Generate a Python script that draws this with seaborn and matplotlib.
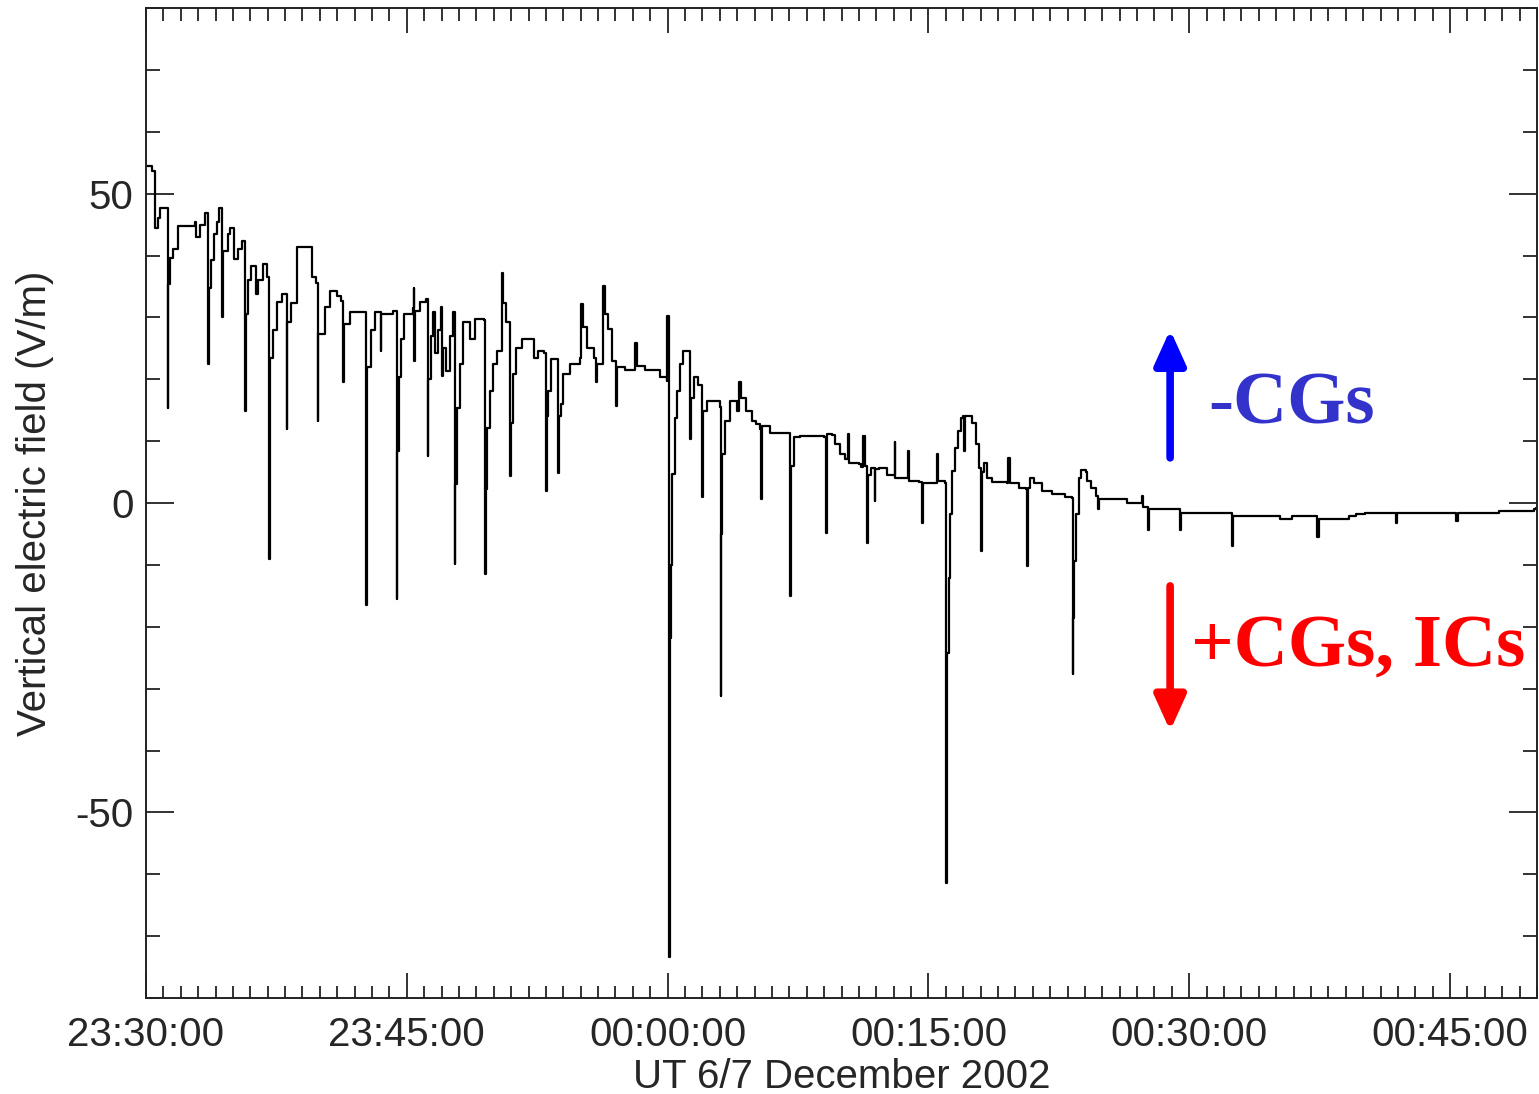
import numpy as np
import pandas as pd
import seaborn as sns
import matplotlib.pyplot as plt
from matplotlib.ticker import FixedLocator, MultipleLocator

# time in minutes after 23:30:00 UT, field in V/m
minutes = [
    0.00, 0.34, 0.52, 0.69, 0.80, 1.25, 1.28, 1.38, 1.55, 1.84,
    2.82, 2.87, 3.10, 3.39, 3.55, 3.62, 3.74, 3.91, 4.08, 4.20,
    4.39, 4.43, 4.71, 4.83, 5.07, 5.29, 5.52, 5.71, 5.75, 5.86,
    6.03, 6.32, 6.44, 6.72, 6.95, 7.09, 7.16, 7.30, 7.53, 7.82,
    8.09, 8.13, 8.33, 8.68, 9.43, 9.54, 9.77, 9.87, 9.91, 10.29,
    10.57, 10.98, 11.21, 11.34, 11.38, 11.72, 12.24, 12.66, 12.70, 12.93,
    13.16, 13.49, 13.53, 13.91, 14.20, 14.41, 14.45, 14.54, 14.65, 14.83,
    15.34, 15.40, 15.43, 15.49, 15.75, 16.09, 16.19, 16.23, 16.38, 16.49,
    16.61, 16.78, 16.95, 17.03, 17.07, 17.24, 17.47, 17.64, 17.76, 17.80,
    17.87, 18.05, 18.22, 18.62, 18.91, 19.43, 19.48, 19.54, 19.60, 19.77,
    19.94, 20.17, 20.46, 20.50, 20.55, 20.69, 20.92, 20.96, 21.00, 21.09,
    21.26, 21.61, 22.07, 22.30, 22.53, 22.87, 22.99, 23.05, 23.13, 23.28,
    23.62, 23.70, 23.77, 23.85, 23.97, 24.37, 24.94, 25.04, 25.11, 25.34,
    25.75, 25.90, 25.95, 26.26, 26.30, 26.38, 26.55, 26.78, 27.01, 27.05,
    27.10, 27.53, 28.05, 28.10, 28.22, 28.68, 28.97, 29.54, 29.94, 29.98,
    30.06, 30.09, 30.12, 30.15, 30.19, 30.26, 30.40, 30.52, 30.69, 30.86,
    31.15, 31.26, 31.32, 31.49, 31.72, 31.95, 31.99, 32.04, 32.24, 32.99,
    33.05, 33.09, 33.13, 33.28, 33.56, 33.97, 34.08, 34.20, 34.48, 34.83,
    35.11, 35.34, 35.39, 35.43, 35.86, 36.61, 37.01, 37.05, 37.10, 37.24,
    37.59, 38.74, 39.02, 39.08, 39.17, 39.43, 39.60, 39.89, 40.23, 40.40,
    40.46, 41.03, 41.15, 41.26, 41.38, 41.48, 41.52, 41.67, 41.90, 41.95,
    42.18, 42.59, 42.99, 43.05, 43.10, 43.74, 43.81, 43.88, 44.48, 44.64,
    44.68, 45.17, 45.48, 45.55, 45.98, 46.02, 46.05, 46.09, 46.18, 46.26,
    46.38, 46.55, 46.72, 46.87, 47.01, 47.07, 47.13, 47.41, 47.53, 47.76,
    47.93, 48.03, 48.10, 48.22, 48.39, 48.68, 49.54, 49.60, 49.71, 50.23,
    50.63, 50.65, 50.72, 50.86, 51.09, 51.55, 52.13, 52.87, 53.25, 53.29,
    53.32, 53.36, 53.48, 53.68, 53.79, 54.08, 54.14, 54.37, 54.66, 54.77,
    54.83, 55.98, 56.44, 57.24, 57.26, 57.36, 57.60, 57.67, 59.48, 59.54,
    61.15, 62.43, 62.50, 65.17, 65.23, 65.75, 65.92, 67.37, 67.44, 68.91,
    69.20, 69.60, 70.11, 71.88, 71.95, 75.36, 75.43, 77.82, 79.83, 79.95,
]
efield = [
    54.5, 53.7, 44.5, 46.0, 47.6, 15.4, 35.4, 39.6, 41.0, 44.8,
    45.4, 43.0, 45.0, 46.8, 22.5, 34.8, 39.2, 43.5, 45.4, 47.6,
    30.0, 40.8, 43.5, 44.5, 39.5, 41.0, 42.4, 14.9, 30.6, 36.0,
    38.3, 33.8, 36.0, 38.6, 36.5, -9.1, 23.5, 28.0, 32.5, 33.8,
    12.0, 29.2, 32.4, 41.3, 41.3, 36.5, 35.5, 13.3, 27.3, 31.6,
    34.3, 33.5, 32.7, 19.5, 28.9, 30.8, 30.8, -16.5, 22.0, 28.0,
    30.8, 24.6, 30.5, 30.5, 31.0, -15.5, 8.4, 20.3, 26.5, 30.6,
    31.5, 34.8, 23.0, 31.0, 32.5, 33.0, 7.6, 20.0, 27.0, 30.8,
    24.3, 28.0, 31.6, 20.5, 25.0, 21.4, 27.0, 30.8, -9.9, 3.0,
    15.4, 22.5, 29.2, 26.5, 29.8, 29.5, -11.4, 2.3, 12.2, 18.1,
    22.5, 24.6, 25.5, 37.1, 32.4, 29.3, 29.3, 4.3, 13.0, 20.9,
    25.1, 26.5, 26.5, 23.5, 24.6, 24.2, 1.9, 14.0, 18.1, 23.3,
    23.3, 4.9, 14.0, 16.0, 20.9, 22.5, 23.5, 32.2, 28.4, 25.1,
    23.5, 19.5, 22.5, 22.8, 35.1, 30.6, 28.2, 23.0, 22.3, 15.7,
    22.0, 21.5, 21.5, 25.8, 22.2, 21.5, 21.5, 20.3, 19.7, 30.3,
    -53.3, -73.3, -53.0, -21.8, -10.0, 4.7, 13.8, 18.1, 22.5, 24.6,
    24.6, 10.3, 17.0, 20.3, 19.0, 18.1, 0.9, 14.9, 16.5, 15.5,
    -31.2, -5.0, 7.9, 13.3, 16.5, 14.9, 19.6, 17.0, 14.9, 13.3,
    12.7, 11.9, 0.6, 12.5, 11.3, 11.3, 10.8, -15.0, 6.0, 10.6,
    10.9, 10.9, 10.6, -4.9, 11.1, 11.0, 9.5, 7.9, 7.1, 11.1,
    6.5, 6.3, 5.8, 10.8, 6.0, -6.4, 4.5, 5.7, 0.3, 5.5,
    5.7, 4.6, 4.6, 9.8, 4.0, 4.0, 8.4, 3.6, 3.4, -3.3,
    3.2, 3.2, 8.0, 3.5, 3.2, -61.4, -45.5, -24.2, -12.1, -1.8,
    5.2, 8.9, 11.6, 13.8, 14.0, 8.4, 14.1, 14.1, 13.0, 9.5,
    5.7, -7.8, 5.0, 6.5, 4.1, 3.4, 3.2, 7.3, 3.3, 2.5,
    2.3, -10.2, 2.5, 4.1, 3.2, 1.9, 1.4, 0.9, 0.8, -27.7,
    -18.6, -9.4, -1.8, 4.1, 5.3, 5.0, 3.6, 2.5, 1.1, -1.0,
    0.6, 0.6, 0.0, 0.0, 1.1, -0.6, -4.3, -1.0, -4.3, -1.6,
    -1.6, -7.0, -2.1, -2.1, -2.6, -2.6, -2.1, -5.5, -2.6, -2.6,
    -2.1, -1.7, -1.6, -3.2, -1.6, -2.9, -1.6, -1.3, -1.0, -0.8,
]

xtick_pos = [0, 15, 30, 45, 60, 75]
xtick_labels = ["23:30:00", "23:45:00", "00:00:00", "00:15:00", "00:30:00", "00:45:00"]
ytick_pos = [-50, 0, 50]

df = pd.DataFrame({"minutes": minutes, "efield": efield})

sns.set_style("ticks")
plt.rcParams["font.family"] = ["Liberation Sans Narrow", "Liberation Sans", "DejaVu Sans"]

fig = plt.figure(figsize=(15.39, 10.94), dpi=100)
ax = fig.add_axes([146 / 1539, 96 / 1094, 1391 / 1539, 990 / 1094])

sns.lineplot(data=df, x="minutes", y="efield", ax=ax, estimator=None, sort=False,
             color="black", linewidth=1.6, drawstyle="steps-post")

ax.set_xlim(0, 80)
ax.set_ylim(-80, 80)

ax.xaxis.set_major_locator(FixedLocator(xtick_pos))
ax.set_xticklabels(xtick_labels)
ax.xaxis.set_minor_locator(MultipleLocator(1))
ax.yaxis.set_major_locator(FixedLocator(ytick_pos))
ax.set_yticklabels([str(v) for v in ytick_pos])
ax.yaxis.set_minor_locator(MultipleLocator(10))

ax.tick_params(which="both", direction="in", top=True, right=True, color="#222222", width=1.3)
ax.tick_params(axis="x", which="major", length=18, labelsize=29, pad=13)
ax.tick_params(axis="x", which="minor", length=9)
ax.tick_params(axis="y", which="major", length=20, labelsize=29, pad=9)
ax.tick_params(axis="y", which="minor", length=10)

for side in ax.spines.values():
    side.set_visible(True)
    side.set_linewidth(1.4)
    side.set_color("#222222")

ax.set_xlabel("UT 6/7 December 2002", fontsize=29, labelpad=3)
ax.set_ylabel("Vertical electric field (V/m)", fontsize=29, labelpad=15)

# polarity annotations
ax.annotate("", xy=(58.9, 28.0), xytext=(58.9, 7.3),
            arrowprops=dict(arrowstyle="-|>,head_length=2.1,head_width=0.95",
                            color="#0000ff", lw=5.5, shrinkA=0, shrinkB=0))
ax.annotate("", xy=(58.9, -36.8), xytext=(58.9, -13.4),
            arrowprops=dict(arrowstyle="-|>,head_length=2.1,head_width=0.95",
                            color="#ff0000", lw=5.5, shrinkA=0, shrinkB=0))
ax.text(61.1, 15.7, "-CGs", color="#3333cc", fontsize=54, fontweight="bold",
        family=["Liberation Serif", "DejaVu Serif"], ha="left", va="center")
ax.text(60.1, -23.3, "+CGs, ICs", color="#ff0000", fontsize=54, fontweight="bold",
        family=["Liberation Serif", "DejaVu Serif"], ha="left", va="center")

fig.savefig("out.png", dpi=100, facecolor="white")
